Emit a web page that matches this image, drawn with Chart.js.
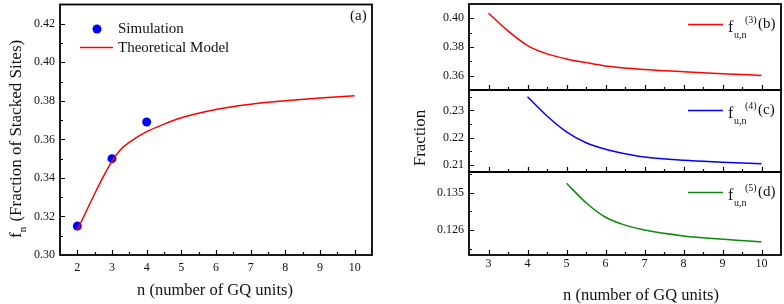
<!DOCTYPE html>
<html>
<head>
<meta charset="utf-8">
<script src="https://cdn.jsdelivr.net/npm/chart.js@4.4.1/dist/chart.umd.min.js"></script>
<style>
  html, body { margin: 0; padding: 0; background: #fff; }
  #wrap { position: relative; width: 784px; height: 304px; overflow: hidden; }
  canvas { position: absolute; top: 0; }
</style>
</head>
<body>
<div id="wrap">
  <canvas id="chartA" width="400" height="304" style="left:0"></canvas>
  <canvas id="chartB" width="384" height="304" style="left:400px"></canvas>
  <canvas id="chartC" width="384" height="304" style="left:400px"></canvas>
  <canvas id="chartD" width="384" height="304" style="left:400px"></canvas>
</div>
<script>
// (a) simulation + model
const simN = [2, 3, 4];
const simF = [0.315, 0.350, 0.369];
const modelN = [2, 2.5, 2.75, 3, 3.25, 3.5, 4, 4.5, 5, 6, 7, 8, 9, 10];
const modelF = [0.313, 0.3318, 0.3407, 0.3487, 0.3547, 0.3585, 0.3640, 0.3679, 0.3712, 0.3755, 0.3782, 0.3800, 0.3815, 0.3827];

// (b) (c) (d)
const nB = [3, 3.5, 4, 4.5, 5, 5.5, 6, 7, 8, 9, 10];
const fB = [0.4035, 0.3912, 0.3810, 0.3752, 0.3717, 0.3691, 0.3668, 0.3643, 0.3628, 0.3614, 0.3602];
const nC = [4, 4.5, 5, 5.5, 6, 6.5, 7, 8, 9, 10];
const fC = [0.2350, 0.2280, 0.2222, 0.2182, 0.2158, 0.2142, 0.2130, 0.2118, 0.2111, 0.2105];
const nD = [5, 5.5, 6, 6.5, 7, 8, 9, 10];
const fD = [0.1373, 0.1326, 0.1291, 0.1272, 0.1260, 0.1246, 0.1238, 0.1232];

// ticks
const xTicksA = [2, 3, 4, 5, 6, 7, 8, 9, 10];
const xMinorA = [2.5, 3.5, 4.5, 5.5, 6.5, 7.5, 8.5, 9.5];
const yTicksA = [0.30, 0.32, 0.34, 0.36, 0.38, 0.40, 0.42];
const yMinorA = [0.31, 0.33, 0.35, 0.37, 0.39, 0.41];
const xTicksR = [3, 4, 5, 6, 7, 8, 9, 10];
const xMinorR = [3.5, 4.5, 5.5, 6.5, 7.5, 8.5, 9.5];
const yTicksB = [0.36, 0.38, 0.40];
const yMinorB = [0.37, 0.39];
const yTicksC = [0.21, 0.22, 0.23];
const yMinorC = [0.215, 0.225, 0.235];
const yTicksD = [0.126, 0.135];
const yMinorD = [0.1215, 0.1305, 0.1395];

const SERIF = "'Liberation Serif', 'Times New Roman', serif";
Chart.defaults.font.family = SERIF;
Chart.defaults.color = '#111';

function pts(xs, ys) {
  return xs.map((x, i) => ({ x: x, y: ys[i] }));
}

function fixedTicks(arr) {
  return function (scale) {
    scale.ticks = arr.map(v => ({ value: v }));
  };
}

// frame + inward ticks
function framePlugin(opts) {
  return {
    id: 'frame',
    afterDraw(chart) {
      const ctx = chart.ctx;
      const a = chart.chartArea;
      const xs = chart.scales.x, ys = chart.scales.y;
      ctx.save();
      ctx.strokeStyle = '#000';
      ctx.lineWidth = 1.2;
      ctx.beginPath();
      opts.xMajor.forEach(v => {
        const p = Math.round(xs.getPixelForValue(v)) + 0.5;
        ctx.moveTo(p, a.bottom); ctx.lineTo(p, a.bottom - 5);
      });
      opts.xMinor.forEach(v => {
        const p = Math.round(xs.getPixelForValue(v)) + 0.5;
        ctx.moveTo(p, a.bottom); ctx.lineTo(p, a.bottom - 3);
      });
      opts.yMajor.forEach(v => {
        const p = Math.round(ys.getPixelForValue(v)) + 0.5;
        ctx.moveTo(a.left, p); ctx.lineTo(a.left + 5, p);
      });
      opts.yMinor.forEach(v => {
        const p = Math.round(ys.getPixelForValue(v)) + 0.5;
        ctx.moveTo(a.left, p); ctx.lineTo(a.left + 3, p);
      });
      ctx.stroke();
      ctx.lineWidth = 1.8;
      ctx.strokeRect(a.left, a.top, a.right - a.left, a.bottom - a.top);
      if (opts.extra) opts.extra(ctx, a);
      ctx.restore();
    }
  };
}

function baseScales(xMin, xMax, xTicks, showX, xPad, yMin, yMax, yTicks, yFmt, yWidth, xHeight) {
  return {
    x: {
      type: 'linear', min: xMin, max: xMax, display: showX,
      afterBuildTicks: fixedTicks(xTicks),
      afterFit(s) { s.height = xHeight; s.paddingLeft = 0; s.paddingRight = 0; },
      grid: { display: false, drawTicks: false },
      border: { display: false },
      ticks: { autoSkip: false, maxRotation: 0, padding: xPad, font: { size: 12 }, callback: v => String(v) }
    },
    y: {
      type: 'linear', min: yMin, max: yMax,
      afterBuildTicks: fixedTicks(yTicks),
      afterFit(s) { s.width = yWidth; s.paddingTop = 0; s.paddingBottom = 0; },
      grid: { display: false, drawTicks: false },
      border: { display: false },
      ticks: { autoSkip: false, padding: 5, font: { size: 12 }, callback: yFmt }
    }
  };
}

// ---- (a)
new Chart(document.getElementById('chartA'), {
  type: 'line',
  data: {
    datasets: [
      {
        label: 'Theoretical Model',
        data: pts(modelN, modelF),
        borderColor: '#ff0000', borderWidth: 1.5,
        pointRadius: 0, tension: 0.4, cubicInterpolationMode: 'monotone'
      },
      {
        label: 'Simulation',
        data: pts(simN, simF),
        showLine: false,
        pointRadius: 4.5, pointBackgroundColor: '#0000ff', pointBorderColor: '#0000ff', pointBorderWidth: 0
      }
    ]
  },
  options: {
    responsive: false, animation: false,
    layout: { padding: { left: 0, top: 1, right: 28, bottom: 0 } },
    plugins: { legend: { display: false }, tooltip: { enabled: false } },
    scales: baseScales(1.5, 10.5, xTicksA, true, 6, 0.30, 0.43, yTicksA, v => v.toFixed(2), 60, 49)
  },
  plugins: [framePlugin({
    xMajor: xTicksA, xMinor: xMinorA, yMajor: yTicksA, yMinor: yMinorA,
    extra(ctx, a) {
      // legend
      ctx.beginPath();
      ctx.fillStyle = '#0000ff';
      ctx.arc(97, 29, 4.5, 0, Math.PI * 2);
      ctx.fill();
      ctx.strokeStyle = '#ff0000';
      ctx.lineWidth = 1.5;
      ctx.beginPath();
      ctx.moveTo(80, 47.5); ctx.lineTo(113, 47.5);
      ctx.stroke();
      ctx.fillStyle = '#111';
      ctx.font = '15px ' + SERIF;
      ctx.textBaseline = 'middle';
      ctx.textAlign = 'left';
      ctx.fillText('Simulation', 118, 29);
      ctx.fillText('Theoretical Model', 118, 48);
      ctx.fillText('(a)', 350, 16);
      // x title
      ctx.font = '16.5px ' + SERIF;
      ctx.textAlign = 'center';
      ctx.textBaseline = 'alphabetic';
      ctx.fillText('n (number of GQ units)', 215, 295);
      // y title with subscript
      ctx.save();
      ctx.translate(21, 238);
      ctx.rotate(-Math.PI / 2);
      ctx.textAlign = 'left';
      ctx.font = '17px ' + SERIF;
      ctx.fillText('f', 0, 0);
      let w = ctx.measureText('f').width;
      ctx.font = '11px ' + SERIF;
      ctx.fillText('n', w, 5);
      w += ctx.measureText('n').width + 1;
      ctx.font = '17px ' + SERIF;
      ctx.fillText(' (Fraction of Stacked Sites)', w, 0);
      ctx.restore();
    }
  })]
});

// ---- right panel
function subLegend(color, sup, tag) {
  return function (ctx, a) {
    const t = a.top;
    ctx.strokeStyle = color;
    ctx.lineWidth = 1.5;
    ctx.beginPath();
    ctx.moveTo(288, t + 20.5); ctx.lineTo(323, t + 20.5);
    ctx.stroke();
    ctx.fillStyle = '#111';
    ctx.textAlign = 'left';
    ctx.textBaseline = 'alphabetic';
    ctx.font = '16px ' + SERIF;
    ctx.fillText('f', 328, t + 28);
    ctx.font = '10px ' + SERIF;
    ctx.fillText('u,n', 334, t + 34);
    ctx.fillText(sup, 345, t + 19);
    ctx.font = '15px ' + SERIF;
    ctx.fillText(tag, 358, t + 24);
  };
}

function subChart(id, xs, ys, color, yMin, yMax, yTicks, yMinor, yFmt, top, bottom, showX, sup, tag, extraTitles) {
  const legend = subLegend(color, sup, tag);
  new Chart(document.getElementById(id), {
    type: 'line',
    data: {
      datasets: [{
        data: pts(xs, ys),
        borderColor: color, borderWidth: 1.5,
        pointRadius: 0, tension: 0.4, cubicInterpolationMode: 'monotone'
      }]
    },
    options: {
      responsive: false, animation: false,
      layout: { padding: { left: 0, top: top, right: 3, bottom: showX ? 0 : 304 - bottom } },
      plugins: { legend: { display: false }, tooltip: { enabled: false } },
      scales: baseScales(2.5, 10.5, xTicksR, showX, 2, yMin, yMax, yTicks, yFmt, 69, showX ? 304 - bottom : 0)
    },
    plugins: [framePlugin({
      xMajor: xTicksR, xMinor: xMinorR, yMajor: yTicks, yMinor: yMinor,
      extra(ctx, a) {
        legend(ctx, a);
        if (extraTitles) extraTitles(ctx, a);
      }
    })]
  });
}

subChart('chartB', nB, fB, '#ff0000', 0.35, 0.41, yTicksB, yMinorB, v => v.toFixed(2), 4, 90, false, '(3)', '(b)');
subChart('chartC', nC, fC, '#0000ff', 0.2075, 0.2375, yTicksC, yMinorC, v => v.toFixed(2), 90, 172, false, '(4)', '(c)');
subChart('chartD', nD, fD, '#0a8a0a', 0.12, 0.14, yTicksD, yMinorD, v => v.toFixed(3), 172, 255, true, '(5)', '(d)',
  function (ctx, a) {
    ctx.fillStyle = '#111';
    ctx.font = '16.5px ' + SERIF;
    ctx.textAlign = 'center';
    ctx.textBaseline = 'alphabetic';
    ctx.fillText('n (number of GQ units)', 241, 300);
    ctx.save();
    ctx.translate(25, 138);
    ctx.rotate(-Math.PI / 2);
    ctx.font = '17px ' + SERIF;
    ctx.fillText('Fraction', 0, 0);
    ctx.restore();
  });
</script>
</body>
</html>
